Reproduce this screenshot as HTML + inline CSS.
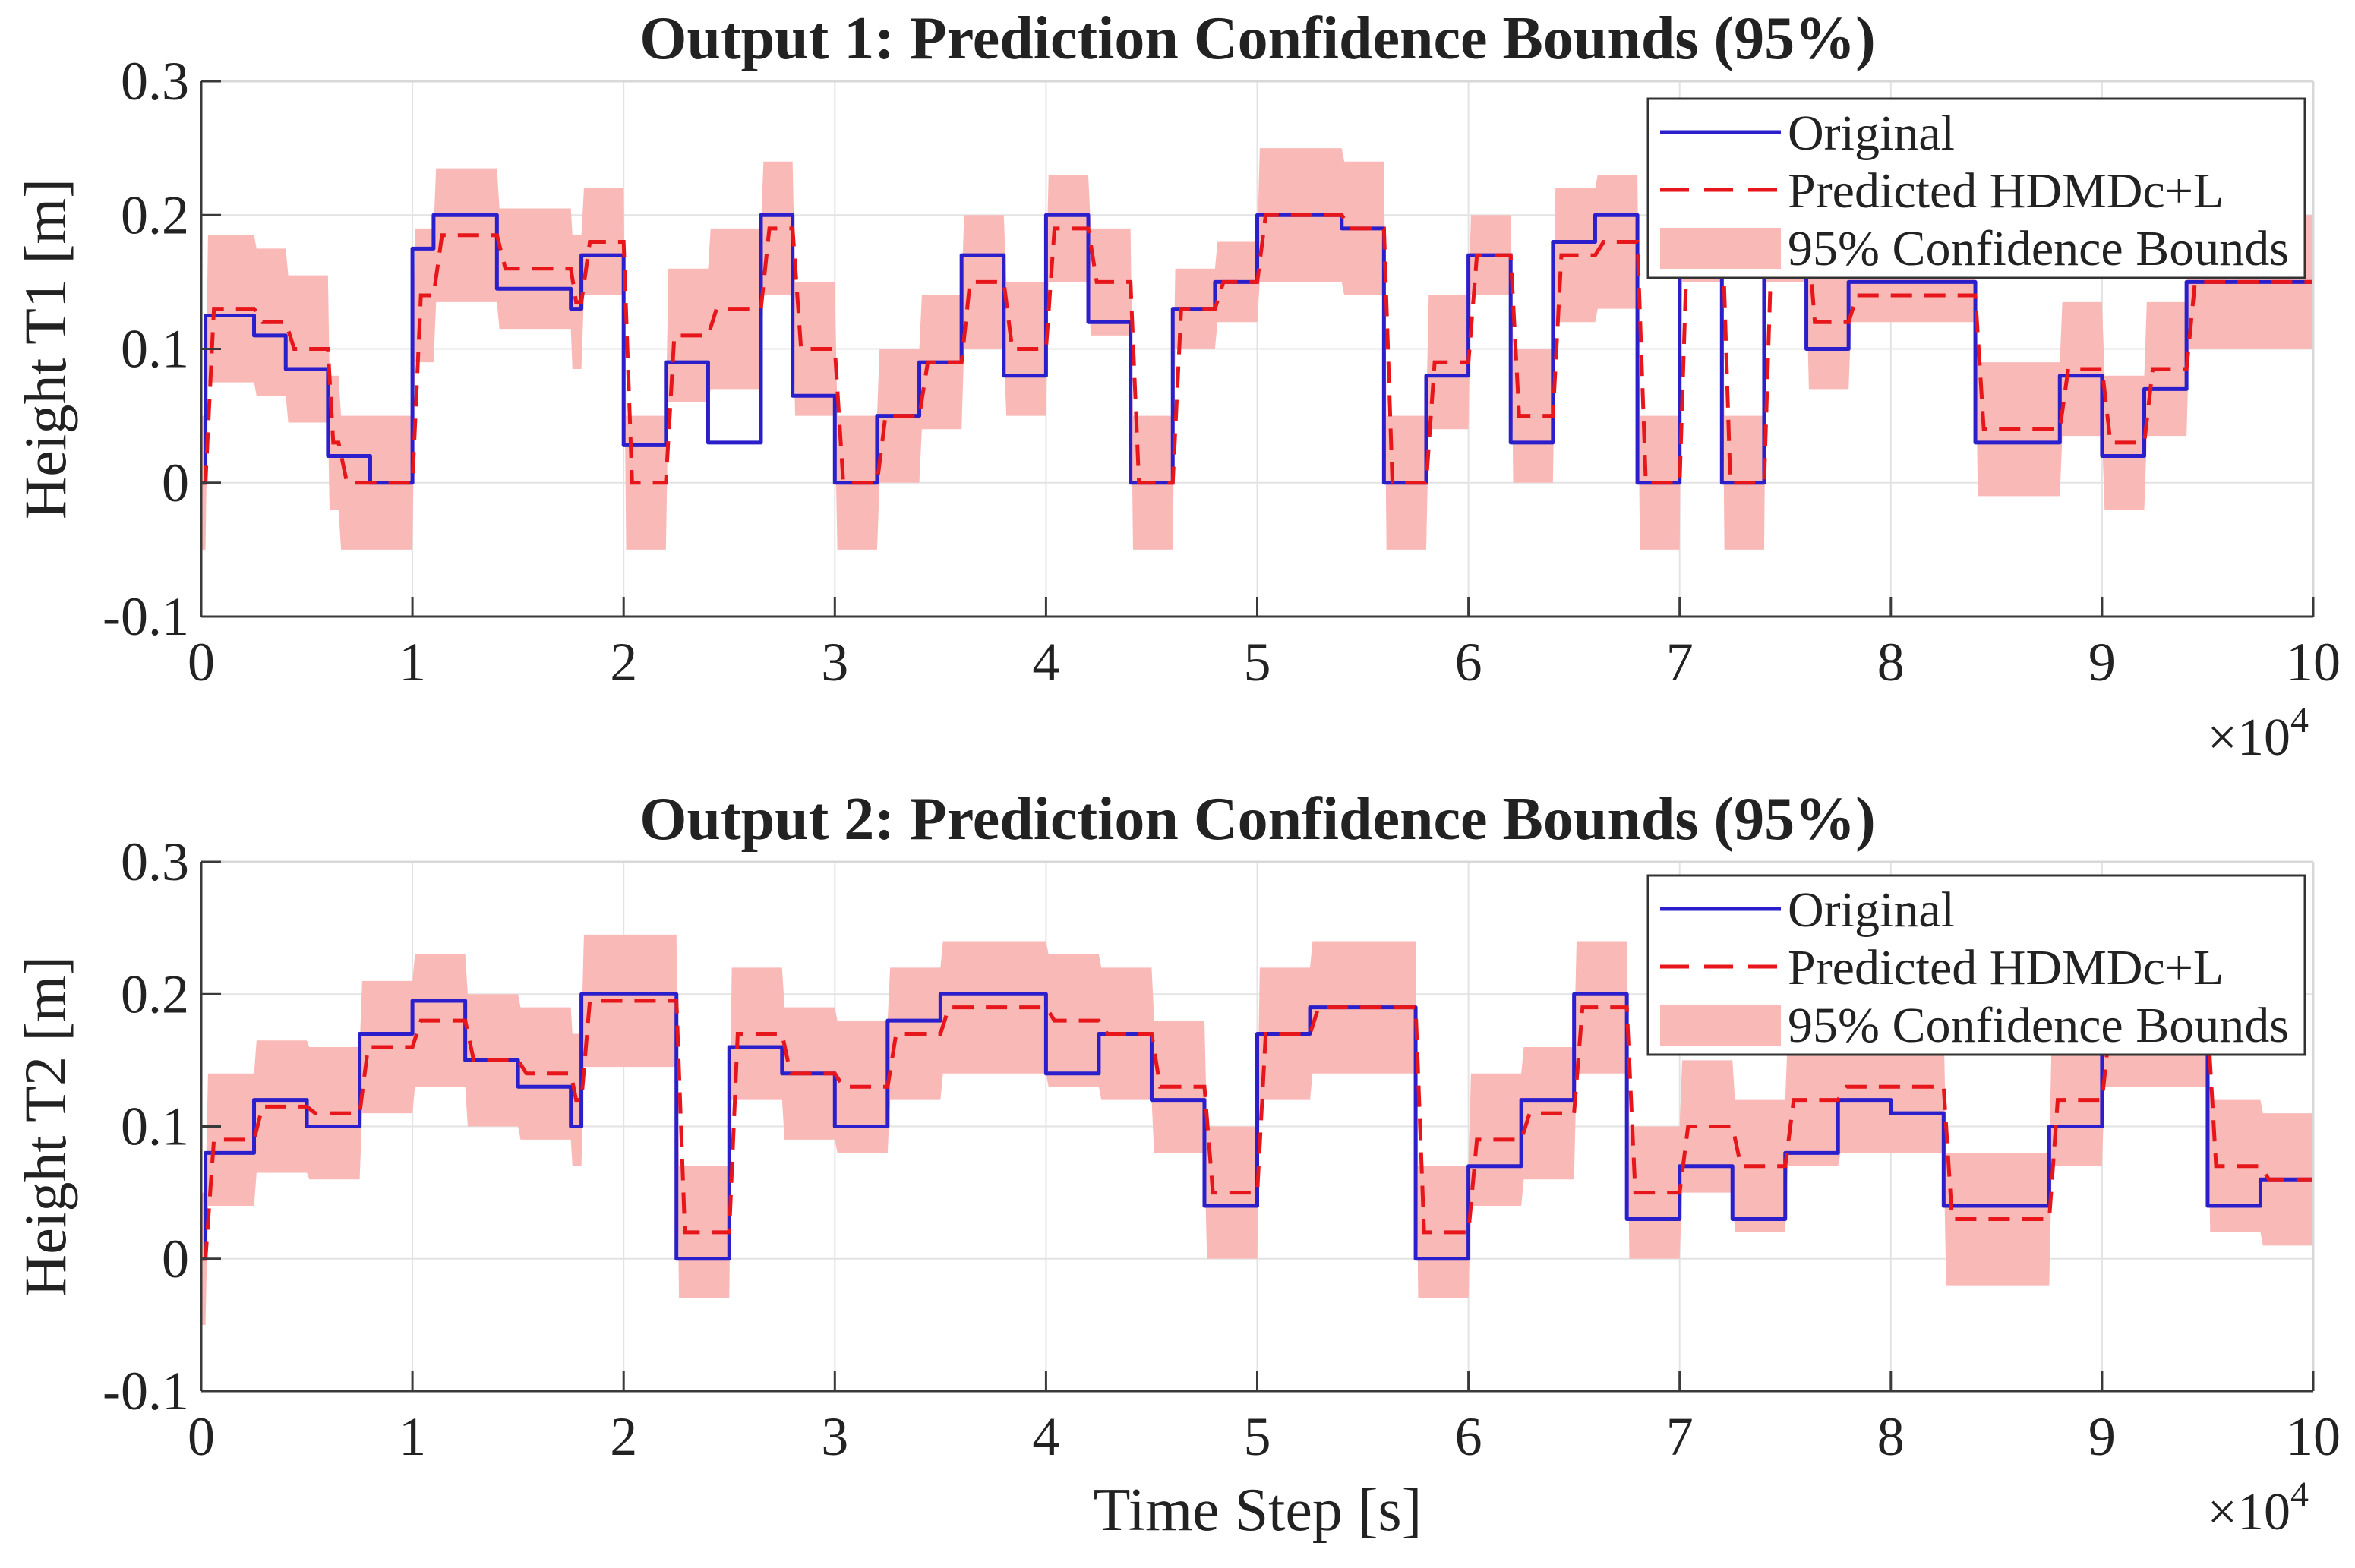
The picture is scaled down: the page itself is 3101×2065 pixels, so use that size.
<!DOCTYPE html>
<html><head><meta charset="utf-8">
<style>
html,body{margin:0;padding:0;background:#fff;}
svg{display:block;}
text{font-family:"Liberation Serif","DejaVu Serif",serif;fill:#222;}
</style></head>
<body>
<svg id="chart" width="3101" height="2065" viewBox="0 0 3101 2065" xmlns="http://www.w3.org/2000/svg"></svg>
<script>
// ---------- data (time in units of 1e4 s) ----------
const xTicks = [0,1,2,3,4,5,6,7,8,9,10];
const yTicks = [-0.1,0,0.1,0.2,0.3];
const yTickLabels = ["-0.1","0","0.1","0.2","0.3"];

const t1Breaks = [0,0.02,0.25,0.4,0.6,0.65,0.8,1.0,1.1,1.4,1.75,1.8,2.0,2.2,2.4,2.65,2.8,3.0,3.2,3.4,3.6,3.8,4.0,4.2,4.4,4.6,4.8,5.0,5.4,5.6,5.8,6.0,6.2,6.4,6.6,6.8,7.0,7.2,7.4,7.6,7.8,8.4,8.8,9.0,9.2,9.4];
const t1Original = [0,0.125,0.11,0.085,0.02,0.02,0,0.175,0.2,0.145,0.13,0.17,0.028,0.09,0.03,0.2,0.065,0,0.05,0.09,0.17,0.08,0.2,0.12,0,0.13,0.15,0.2,0.19,0,0.08,0.17,0.03,0.18,0.2,0,0.2,0,0.2,0.1,0.15,0.03,0.08,0.02,0.07,0.15];
const t1Predicted = [0,0.13,0.12,0.1,0.03,0,0,0.14,0.185,0.16,0.135,0.18,0.0,0.11,0.13,0.19,0.1,0,0.05,0.09,0.15,0.1,0.19,0.15,0,0.13,0.15,0.2,0.19,0,0.09,0.17,0.05,0.17,0.18,0,0.2,0,0.2,0.12,0.14,0.04,0.085,0.03,0.085,0.15];
const t1HalfWidth = [0.05,0.055,0.055,0.055,0.05,0.05,0.05,0.05,0.05,0.045,0.05,0.04,0.05,0.05,0.06,0.05,0.05,0.05,0.05,0.05,0.05,0.05,0.04,0.04,0.05,0.03,0.03,0.05,0.05,0.05,0.05,0.03,0.05,0.05,0.05,0.05,0.05,0.05,0.05,0.05,0.02,0.05,0.05,0.05,0.05,0.05];

const t2Breaks = [0,0.02,0.25,0.5,0.75,1.0,1.25,1.5,1.75,1.8,2.25,2.5,2.75,3.0,3.25,3.5,4.0,4.25,4.5,4.75,5.0,5.25,5.75,6.0,6.25,6.5,6.75,7.0,7.25,7.5,7.75,8.0,8.25,8.75,9.0,9.5,9.75];
const t2Original = [0,0.08,0.12,0.1,0.17,0.195,0.15,0.13,0.1,0.2,0,0.16,0.14,0.1,0.18,0.2,0.14,0.17,0.12,0.04,0.17,0.19,0,0.07,0.12,0.2,0.03,0.07,0.03,0.08,0.12,0.11,0.04,0.1,0.2,0.04,0.06];
const t2Predicted = [0,0.09,0.115,0.11,0.16,0.18,0.15,0.14,0.12,0.195,0.02,0.17,0.14,0.13,0.17,0.19,0.18,0.17,0.13,0.05,0.17,0.19,0.02,0.09,0.11,0.19,0.05,0.1,0.07,0.12,0.13,0.13,0.03,0.12,0.18,0.07,0.06];
const t2HalfWidth = [0.05,0.05,0.05,0.05,0.05,0.05,0.05,0.05,0.05,0.05,0.05,0.05,0.05,0.05,0.05,0.05,0.05,0.05,0.05,0.05,0.05,0.05,0.05,0.05,0.05,0.05,0.05,0.05,0.05,0.05,0.05,0.05,0.05,0.05,0.05,0.05,0.05];

const NS = "http://www.w3.org/2000/svg";
const svg = document.getElementById('chart');
function mk(tag, attrs, parent){
  const e = document.createElementNS(NS, tag);
  for (const k in attrs) e.setAttribute(k, attrs[k]);
  (parent||svg).appendChild(e);
  return e;
}

function drawPanel(p){
  const X0=265, X1=3046;
  const xs = t => X0 + (t/10)*(X1-X0);
  const ys = v => p.top + (0.3-v)/0.4*(p.bot-p.top);
  const g = mk('g',{});
  
  

  xTicks.forEach(t=>{
    const l = mk('line',{x1:xs(t),x2:xs(t),y1:p.top,y2:p.bot,stroke:'#e3e3e3','stroke-width':2},g);
    
    
  });
  yTicks.forEach(v=>{
    const l = mk('line',{x1:X0,x2:X1,y1:ys(v),y2:ys(v),stroke:'#e3e3e3','stroke-width':2},g);
    
    
  });

  const B=p.breaks, n=B.length, R=0.04;
  const end = i => (i+1<n? B[i+1] : 10);
  let o=[];
  for(let i=0;i<n;i++){ o.push([xs(B[i]),ys(p.orig[i])]); o.push([xs(end(i)),ys(p.orig[i])]); }
  let pr=[], up=[], lo=[];
  for(let i=0;i<n;i++){
    const a=B[i], b=end(i);
    const pv = i>0? p.pred[i-1] : p.pred[0];
    const ph = i>0? p.half[i-1] : p.half[0];
    const r = Math.min(R,(b-a)*0.5);
    pr.push([a,pv]); pr.push([a+r,p.pred[i]]); pr.push([b,p.pred[i]]);
    up.push([a,pv+ph]); up.push([a+r*0.3,p.pred[i]+p.half[i]]); up.push([b,p.pred[i]+p.half[i]]);
    lo.push([a,pv-ph]); lo.push([a+r*0.3,p.pred[i]-p.half[i]]); lo.push([b,p.pred[i]-p.half[i]]);
  }
  const bandPts = up.map(q=>xs(q[0])+','+ys(q[1])).concat(lo.reverse().map(q=>xs(q[0])+','+ys(q[1])));
  const band = mk('polygon',{points:bandPts.join(' '),fill:'#f9b9b7',stroke:'none'},g);
  
  

  const ol = mk('polyline',{points:o.map(q=>q.join(',')).join(' '),fill:'none',stroke:'#2b1fcc','stroke-width':5,'stroke-linejoin':'round'},g);
  
  

  const pl = mk('polyline',{points:pr.map(q=>xs(q[0])+','+ys(q[1])).join(' '),fill:'none',stroke:'#e6161b','stroke-width':5,'stroke-dasharray':'28,16'},g);
  
  

  mk('line',{x1:X0,x2:X1,y1:p.top,y2:p.top,stroke:'#d8d8d8','stroke-width':3},g);
  mk('line',{x1:X1,x2:X1,y1:p.top,y2:p.bot,stroke:'#d8d8d8','stroke-width':3},g);
  const ax = mk('line',{x1:X0,x2:X1,y1:p.bot,y2:p.bot,stroke:'#3a3a3a','stroke-width':3},g);
  
  
  const ay = mk('line',{x1:X0,x2:X0,y1:p.top,y2:p.bot,stroke:'#3a3a3a','stroke-width':3},g);
  
  

  xTicks.forEach(t=>{
    mk('line',{x1:xs(t),x2:xs(t),y1:p.bot,y2:p.bot-26,stroke:'#3a3a3a','stroke-width':3},g);
    const tx = mk('text',{x:xs(t),y:p.bot+84,'text-anchor':'middle','font-size':72},g);
    tx.textContent = String(t);
    
    
  });
  yTicks.forEach((v,i)=>{
    mk('line',{x1:X0,x2:X0+26,y1:ys(v),y2:ys(v),stroke:'#3a3a3a','stroke-width':3},g);
    const tx = mk('text',{x:X0-16,y:ys(v)+24,'text-anchor':'end','font-size':72},g);
    tx.textContent = yTickLabels[i];
    
    
  });

  const ex = mk('text',{x:3040,y:p.bot+182,'text-anchor':'end','font-size':70},g);
  ex.textContent = '×10';
  
  
  const ts = mk('tspan',{dy:-30,'font-size':48},ex); ts.textContent='4';

  const ti = mk('text',{x:1656,y:p.top-30,'text-anchor':'middle','font-size':80,'font-weight':'bold'},g);
  ti.textContent = p.title;
  
  

  const yl = mk('text',{x:0,y:0,'text-anchor':'middle','font-size':78,transform:`translate(86,${ys(0.1)}) rotate(-90)`},g);
  yl.textContent = p.ylabel;
  
  

  const L = mk('g',{},g);
  
  
  const lx=2170, ly=p.legTop, lw=865, lh=236;
  mk('rect',{x:lx,y:ly,width:lw,height:lh,fill:'#fff',stroke:'#333','stroke-width':3},L);
  const rowY=[ly+44, ly+120, ly+196];
  const e1 = mk('line',{x1:lx+16,x2:lx+175,y1:rowY[0],y2:rowY[0],stroke:'#2b1fcc','stroke-width':5},L);
  
  
  const e2 = mk('line',{x1:lx+16,x2:lx+175,y1:rowY[1],y2:rowY[1],stroke:'#e6161b','stroke-width':5,'stroke-dasharray':'38,20'},L);
  
  
  const e3 = mk('rect',{x:lx+16,y:rowY[2]-26,width:159,height:54,fill:'#f9b9b7'},L);
  
  
  const labels=['Original','Predicted HDMDc+L','95% Confidence Bounds'];
  labels.forEach((s,i)=>{
    const tx = mk('text',{x:lx+184,y:rowY[i]+23,'font-size':66},L);
    tx.textContent = s;
    
    
  });
}

drawPanel({name:'output-1-panel',top:107,bot:812,legTop:130,title:'Output 1: Prediction Confidence Bounds (95%)',ylabel:'Height T1 [m]',
  breaks:t1Breaks,orig:t1Original,pred:t1Predicted,half:t1HalfWidth});
drawPanel({name:'output-2-panel',top:1135,bot:1832,legTop:1153,title:'Output 2: Prediction Confidence Bounds (95%)',ylabel:'Height T2 [m]',
  breaks:t2Breaks,orig:t2Original,pred:t2Predicted,half:t2HalfWidth});

const xl = mk('text',{x:1656,y:2015,'text-anchor':'middle','font-size':80});
xl.textContent='Time Step [s]';


</script>
</body></html>
